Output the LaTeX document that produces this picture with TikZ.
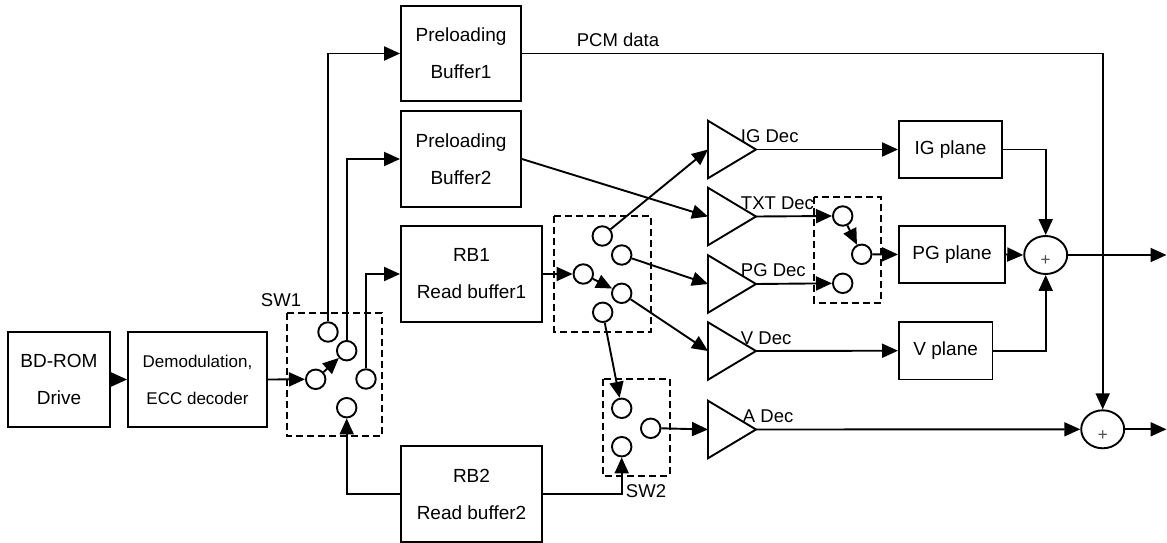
\documentclass[tikz,border=0pt]{standalone}
\usepackage{fontspec}
\setmainfont{Liberation Sans}
\usetikzlibrary{arrows.meta,shapes.geometric}
\newcommand\mydectri[2]{%
  \draw (708,#2-28.75) -- (708,#2+28.75) -- (756,#2) -- cycle;
  \coordinate (#1L) at (708,#2);
  \coordinate (#1T) at (756,#2);
}
\begin{document}
\begin{tikzpicture}[x=1pt,y=-1pt,
  line width=1.9pt,
  box/.style={draw,rectangle,inner sep=0,align=center,font=\fontsize{19}{37}\selectfont},
  sw/.style={draw,circle,minimum size=19.5pt,inner sep=0},
  grp/.style={draw,dash pattern=on 7pt off 4pt},
  arr/.style={-{Triangle[length=16pt,width=14pt]}},
  lbl/.style={font=\fontsize{18.5}{20}\selectfont,inner sep=0},
  adder/.style={draw,ellipse,minimum width=43pt,minimum height=38pt,inner sep=0},
  plus/.style={font=\fontsize{17}{17}\selectfont,text=black!70},
]
\useasboundingbox (0,0) rectangle (1167,543);

% boxes
\node[box,minimum width=102pt,minimum height=95pt] (bd) at (59,379.5) {BD-ROM\\Drive};
\node[box,minimum width=139pt,minimum height=95pt,font=\fontsize{17}{37}\selectfont] (dem) at (197.5,379.5) {Demodulation,\\ECC decoder};
\node[box,minimum width=120pt,minimum height=95pt] (pb1) at (461,53.5) {Preloading\\Buffer1};
\node[box,minimum width=120pt,minimum height=96pt] (pb2) at (461,159) {Preloading\\Buffer2};
\node[box,minimum width=141pt,minimum height=96pt] (rb1) at (471.5,274) {RB1\\Read buffer1};
\node[box,minimum width=141pt,minimum height=96pt] (rb2) at (471.5,494) {RB2\\Read buffer2};
\node[box,minimum width=103pt,minimum height=57.5pt] (igp) at (950.5,149.5) {IG plane};
\node[box,minimum width=106pt,minimum height=57pt] (pgp) at (952,254.5) {PG plane};
\node[box,minimum width=93.5pt,minimum height=57.5pt] (vp) at (945.7,350.7) {V plane};

% switch groups
\draw[grp] (287,313) rectangle (382,436);
\draw[grp] (554.3,216) rectangle (651,331.7);
\draw[grp] (602.7,379.3) rectangle (670,475.7);
\draw[grp] (814,197.3) rectangle (881.3,302.7);

% SW1 circles
\node[sw] (s1a) at (328,332) {};
\node[sw] (s1b) at (346.7,350.7) {};
\node[sw] (s1in) at (315.7,379.3) {};
\node[sw] (s1c) at (366,379) {};
\node[sw] (s1d) at (346.7,407.7) {};
% middle switch
\node[sw] (min) at (583.3,274) {};
\node[sw] (ma) at (602.3,236) {};
\node[sw] (mb) at (621.7,255) {};
\node[sw] (mc) at (621.7,293.3) {};
\node[sw] (md) at (602.7,312.3) {};
% SW2
\node[sw] (s2a) at (621.7,408.3) {};
\node[sw] (s2b) at (621.7,446.7) {};
\node[sw] (s2out) at (650.7,428.3) {};
% PG switch
\node[sw] (s4a) at (842.7,216) {};
\node[sw] (s4b) at (842.7,283.3) {};
\node[sw] (s4out) at (861.7,254.3) {};

% decoders
\mydectri{ig}{149.5}
\mydectri{txt}{216.5}
\mydectri{pg}{284}
\mydectri{v}{351}
\mydectri{a}{429.5}

% adders
\node[adder] (add1) at (1045.7,255) {};
\node[adder] (add2) at (1102.7,429.3) {};
\node[plus] (p1) at (1045.7,261) {+};
\node[plus] (p2) at (1102.7,435.5) {+};
\coordinate (out1) at (1166.5,255);
\coordinate (out2) at (1166.5,429.3);

% labels
\node[lbl] (lsw1) at (281,300) {SW1};
\node[lbl,anchor=west] (lsw2) at (625,491) {SW2};
\node[lbl] (lpcm) at (618,40) {PCM data};
\node[lbl,anchor=west] (lig) at (740,136.5) {IG Dec};
\node[lbl,anchor=west] (ltxt) at (740,203.5) {TXT Dec};
\node[lbl,anchor=west] (lpg) at (740,270.5) {PG Dec};
\node[lbl,anchor=west] (lv) at (740,338) {V Dec};
\node[lbl,anchor=west] (la) at (742,416) {A Dec};

% connectors
\draw[arr] (bd.east) -- (dem.west);
\draw[arr] (dem.east) -- (s1in.west);
\draw[arr] (s1in) -- (s1b);
\draw[arr] (s1a.north) |- (pb1.west);
\draw[arr] (s1b.north) |- (pb2.west);
\draw[arr] (s1c.north) |- (rb1.west);
\draw[arr] (rb2.west) -| (s1d.south);

\draw[arr] (rb1.east) -- (min.west);
\draw[arr] (min) -- (mc);
\draw[arr] (ma) -- (igL);
\draw[arr] (mb) -- (pgL);
\draw[arr] (mc) -- (vL);
\draw[arr] (md) -- (s2a);

\draw[arr] (pb2.east) -- (txtL);
\draw[arr] (txtT) -- (s4a.west);
\draw[arr] (pgT) -- (s4b.west);
\draw[arr] (s4a) -- (s4out);
\draw[arr] (s4out.east) -- (pgp.west);

\draw[arr] (igT) -- (igp.west);
\draw[arr] (vT) -- (vp.west);
\draw[arr] (igp.east) -| (add1.north);
\draw[arr] (vp.east) -| (add1.south);
\draw[arr] (pgp.east) -- (add1.west);
\draw[arr] (add1.east) -- (out1);

\draw[arr] (pb1.east) -| (add2.north);
\draw[arr] (aT) -- (add2.west);
\draw[arr] (add2.east) -- (out2);

\draw[arr] (s2out.east) -- (aL);
\draw[arr] (rb2.east) -| (s2b.south);
\end{tikzpicture}
\end{document}
